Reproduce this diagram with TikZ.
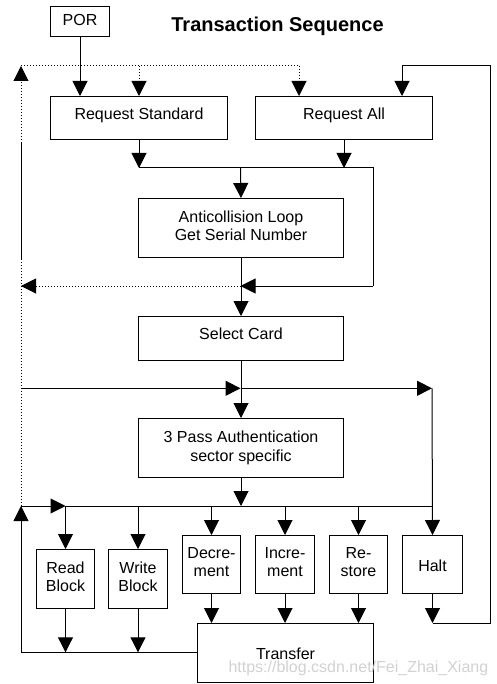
\documentclass[tikz,border=0pt]{standalone}
\usepackage{fontspec}
\setmainfont{Liberation Sans}
\usetikzlibrary{arrows.meta}
\begin{document}
\begin{tikzpicture}[x=1pt,y=-1pt,line width=1pt,
  box/.style={draw,line width=1pt,inner sep=0pt,anchor=north west},
  lbl/.style={font=\fontsize{16}{18.6}\selectfont,anchor=base,inner sep=0pt,align=center},
  arr/.style={-{Triangle[length=15pt,width=15pt]}},
  dots/.style={dash pattern=on 1pt off 2pt}]
\useasboundingbox (0,0) rectangle (496,684);
% boxes
\node[box,minimum width=59pt,minimum height=30pt] (por) at (50,6) {};
\node[box,minimum width=177pt,minimum height=43pt] (rs) at (50,96) {};
\node[box,minimum width=177pt,minimum height=43pt] (ra) at (255,96) {};
\node[box,minimum width=205pt,minimum height=59pt] (ac) at (138,198) {};
\node[box,minimum width=205pt,minimum height=44pt] (sc) at (138,316) {};
\node[box,minimum width=205pt,minimum height=59pt] (au) at (138,418) {};
\node[box,minimum width=58pt,minimum height=59pt] (rb) at (36,549) {};
\node[box,minimum width=59pt,minimum height=59pt] (wb) at (108,549) {};
\node[box,minimum width=58pt,minimum height=58pt] (dec) at (182,535) {};
\node[box,minimum width=59pt,minimum height=58pt] (inc) at (255,535) {};
\node[box,minimum width=58pt,minimum height=58pt] (rst) at (329,535) {};
\node[box,minimum width=60pt,minimum height=58pt] (hlt) at (402,535) {};
\node[box,minimum width=176pt,minimum height=59pt] (tr) at (197,623) {};
% texts (base anchor = baseline of the last line)
\node[font=\bfseries\fontsize{20}{24}\selectfont,anchor=base,inner sep=0pt] (title) at (277.5,31.7) {Transaction Sequence};
\node[lbl] (por-t) at (por.center |- 0,25.7) {POR};
\node[lbl] (rs-t) at (rs.center |- 0,119.3) {Request Standard};
\node[lbl] (ra-t) at (ra.center |- 0,119.3) {Request All};
\node[lbl] (ac-t) at (ac.center |- 0,241) {Anticollision Loop\\Get Serial Number};
\node[lbl] (sc-t) at (sc.center |- 0,339) {Select Card};
\node[lbl] (au-t) at (au.center |- 0,461) {3 Pass Authentication\\sector specific};
\node[lbl] (rb-t) at (rb.center |- 0,591.7) {Read\\Block};
\node[lbl] (wb-t) at (wb.center |- 0,591.7) {Write\\Block};
\node[lbl] (dec-t) at (dec.center |- 0,576.7) {Decre-\\ment};
\node[lbl] (inc-t) at (inc.center |- 0,576.7) {Incre-\\ment};
\node[lbl] (rst-t) at (rst.center |- 0,576.7) {Re-\\store};
\node[lbl] (hlt-t) at (hlt.center |- 0,571) {Halt};
\node[lbl] (tr-t) at (tr.center |- 0,659) {Transfer};
% coordinates
\coordinate (tl) at (21,66);
\coordinate (tra) at (299,66);
\coordinate (rl) at (490,66);
\coordinate (rt) at (402,66);
\coordinate (m1) at (240.5,168);
\coordinate (c1) at (373,168);
\coordinate (c2) at (373,286);
\coordinate (m2) at (240.5,286);
\coordinate (l2) at (21,286);
\coordinate (ls1) at (21,142);
\coordinate (ls2) at (21,260);
\coordinate (l3) at (21,388.3);
\coordinate (m3) at (240.5,388.3);
\coordinate (r3) at (432,388.3);
\coordinate (lb) at (21,506);
\coordinate (bl) at (21,652.3);
% top
\draw[arr] (por.south) -- (por.south |- rs.north);
\draw[dots] (tl) -- (tra);
\draw[dots,arr] (rs.north |- tl) -- (rs.north);
\draw[dots,arr] (tra) -- (tra |- ra.north);
\draw[arr] (hlt.south) -- (hlt.south |- tr.north);
\draw[arr] (hlt.south |- tr.north) -| (rl) -- (rt) -- (rt |- ra.north);
% middle
\draw[arr] (rs.south) -- (rs.south |- m1);
\draw[arr] (ra.south) -- (ra.south |- m1);
\draw (rs.south |- m1) -- (c1) -- (c2);
\draw[arr] (c2) -- (m2);
\draw[arr] (m1) -- (ac.north);
\draw[arr] (ac.south) -- (sc.north);
\draw[dots,arr] (m2) -- (l2);
\draw[dots,arr] (lb) -- (tl);
\draw (ls1) -- (ls2);
\draw[arr] (l3) -- (m3);
\draw[arr] (m3) -- (r3);
\draw[arr] (sc.south) -- (au.north);
\draw[arr] (r3) -- (hlt.north);
\draw[arr] (au.south) -- (au.south |- lb);
% bottom
\draw[arr] (lb) -- (lb -| rb.north);
\draw (lb -| rb.north) -- (lb -| hlt.north);
\foreach \n in {rb,wb,dec,inc,rst}
  \draw[arr] (lb -| \n.north) -- (\n.north);
\draw[arr] (rb.south) -- (rb.south |- bl);
\draw[arr] (wb.south) -- (wb.south |- bl);
\foreach \n in {dec,inc,rst}
  \draw[arr] (\n.south) -- (\n.south |- tr.north);
\draw[arr] (tr.west |- bl) -- (bl) -- (lb);
% watermark
\node[font=\fontsize{16}{18}\selectfont,text=black!18,anchor=base west,inner sep=0pt] (wm) at (228,672) {https://blog.csdn.net/Fei\_Zhai\_Xiang};
\end{tikzpicture}
\end{document}
